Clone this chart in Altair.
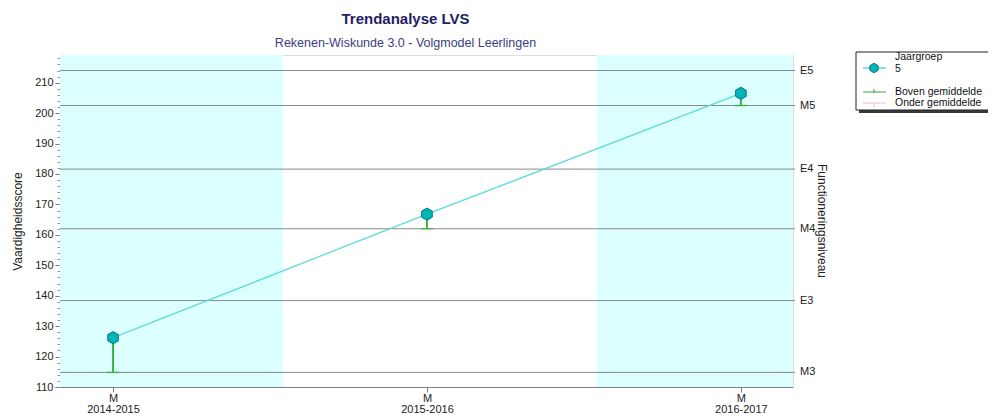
import json
import altair as alt
import pandas as pd

# ---- data ----
years = ["2014-2015", "2015-2016", "2016-2017"]
period = ["M", "M", "M"]
scores = [126.2, 166.8, 206.5]
stem_base = [114.8, 162.0, 202.5]
levels = ["M3", "E3", "M4", "E4", "M5", "E5"]
level_values = [114.8, 138.4, 162.0, 181.6, 202.5, 214.0]
band_start = [-0.169, 1.541]
band_end = [0.541, 2.166]
y_ticks = list(range(110, 211, 10))
y_minor = list(range(110, 220, 2))
legend_labels = ["Jaargroep", "5", "Boven gemiddelde", "Onder gemiddelde"]

W, H = 733, 332
XD = [-0.169, 2.166]
YD = [110, 219.1]
FONT = "Liberation Sans"
HEX = "M0,-1L0.866,-0.5L0.866,0.5L0,1L-0.866,0.5L-0.866,-0.5Z"

pts = pd.DataFrame({"i": list(range(len(years))), "year": years,
                    "score": scores, "base": stem_base})
lv = pd.DataFrame({"level": levels, "value": level_values})
bands = pd.DataFrame({"s": band_start, "e": band_end})
one = pd.DataFrame({"d": [0]})

xs = alt.Scale(domain=XD, nice=False, zero=False)
ys = alt.Scale(domain=YD, nice=False, zero=False)

label_expr = "[" + json.dumps(period) + "[datum.value], " + json.dumps(years) + "[datum.value]]"
x_axis = alt.Axis(values=[0, 1, 2], labelExpr=label_expr, tickSize=5,
                  tickColor="#808080", domainColor="#808080",
                  labelFont=FONT, labelFontSize=11, labelLineHeight=11,
                  labelColor="#222222", labelPadding=0, grid=False,
                  labelBaseline="top", title=None)


def X(field):
    return alt.X(field, scale=xs, axis=x_axis, title=None)


band_layer = alt.Chart(bands).mark_rect(color="#dcffff").encode(
    x=X("s:Q"),
    x2="e:Q",
    y=alt.value(0),
    y2=alt.value(H),
)

level_rules = alt.Chart(lv).mark_rule(color="#8a8a8a", strokeWidth=1).encode(
    y=alt.Y("value:Q", scale=ys, axis=None),
    x=alt.value(0),
    x2=alt.value(W + 2),
)

level_text = alt.Chart(lv).mark_text(
    align="left", baseline="middle", font=FONT, fontSize=11, color="#222222"
).encode(
    y=alt.Y("value:Q", scale=ys, axis=None),
    x=alt.value(W + 7),
    text="level:N",
)

line = alt.Chart(pts).mark_line(color="#5cdcdc", strokeWidth=1.3).encode(
    x=X("i:Q"),
    y=alt.Y("score:Q", scale=ys,
            axis=alt.Axis(orient="left", values=y_ticks, tickSize=5,
                          tickColor="#707070", domainColor="#909090",
                          labelFont=FONT, labelFontSize=11, labelColor="#222222",
                          labelPadding=2, grid=False,
                          title="Vaardigheidsscore", titleFont=FONT,
                          titleFontSize=12, titleFontWeight="normal",
                          titleColor="#222222", titleX=-43, titleY=H / 2,
                          titleAngle=-90, titleBaseline="middle",
                          titleAlign="center")),
)

stems = alt.Chart(pts).mark_rule(color="#0a9a0a", strokeWidth=1.5).encode(
    x=X("i:Q"),
    y=alt.Y("base:Q", scale=ys,
            axis=alt.Axis(orient="left", values=y_minor, tickSize=3,
                          tickColor="#909090", labels=False, domain=False,
                          grid=False, title=None)),
    y2="score:Q",
)

base_ticks = alt.Chart(pts).mark_point(
    shape="M-1,0L1,0", size=160, stroke="#2db52d", strokeWidth=1.5, filled=False
).encode(
    x=X("i:Q"),
    y=alt.Y("base:Q", scale=ys, axis=None),
)

points = alt.Chart(pts).mark_point(
    shape=HEX, size=150, filled=True, fill="#00b5b8", stroke="#007a7c",
    strokeWidth=1, opacity=1
).encode(
    x=X("i:Q"),
    y=alt.Y("score:Q", scale=ys, axis=None),
)

right_title = alt.Chart(one).mark_text(
    text="Functioneringsniveau", angle=90, align="center", baseline="middle",
    font=FONT, fontSize=12, color="#222222"
).encode(x=alt.value(W + 29), y=alt.value(H / 2))

# ---- legend (drawn manually to the right of the plot) ----
LX, LY = 796, -3
legend_shadow = alt.Chart(one).mark_rect(fill="#3a3a3a").encode(
    x=alt.value(LX + 3), x2=alt.value(LX + 141), y=alt.value(LY + 3), y2=alt.value(LY + 61))
legend_box = alt.Chart(one).mark_rect(fill="white", stroke="#222222", strokeWidth=1).encode(
    x=alt.value(LX), x2=alt.value(LX + 138), y=alt.value(LY), y2=alt.value(LY + 58))
leg_cyan = alt.Chart(one).mark_rule(color="#5cdcdc", strokeWidth=1.5).encode(
    x=alt.value(LX + 7), x2=alt.value(LX + 30), y=alt.value(LY + 16))
leg_hex = alt.Chart(one).mark_point(shape=HEX, size=90, filled=True, fill="#00b5b8",
                                    stroke="#007a7c", strokeWidth=1, opacity=1).encode(
    x=alt.value(LX + 18), y=alt.value(LY + 16))
leg_green = alt.Chart(one).mark_rule(color="#3aa83a", strokeWidth=1).encode(
    x=alt.value(LX + 7), x2=alt.value(LX + 30), y=alt.value(LY + 40))
leg_green_t = alt.Chart(one).mark_rule(color="#3aa83a", strokeWidth=1).encode(
    x=alt.value(LX + 18), y=alt.value(LY + 37), y2=alt.value(LY + 41))
leg_pink = alt.Chart(one).mark_rule(color="#f4bcc6", strokeWidth=1).encode(
    x=alt.value(LX + 7), x2=alt.value(LX + 30), y=alt.value(LY + 51))
leg_pink_t = alt.Chart(one).mark_rule(color="#f4bcc6", strokeWidth=1).encode(
    x=alt.value(LX + 18), y=alt.value(LY + 51), y2=alt.value(LY + 55))

leg_df = pd.DataFrame({"t": legend_labels,
                       "yy": [LY + 5, LY + 17, LY + 39.5, LY + 51]})
leg_text = alt.Chart(leg_df).mark_text(
    align="left", baseline="middle", font=FONT, fontSize=10.5, color="#111111"
).encode(x=alt.value(LX + 39), y=alt.Y("yy:Q", scale=None, axis=None), text="t:N")

chart = alt.layer(
    band_layer, level_rules, level_text, line, stems, base_ticks, points,
    right_title, legend_shadow, legend_box, leg_cyan, leg_hex, leg_green,
    leg_green_t, leg_pink, leg_pink_t, leg_text,
).resolve_axis(y="independent").properties(
    width=W, height=H,
    autosize=alt.AutoSizeParams(type="none"),
    padding={"left": 52, "top": 47, "right": 195, "bottom": 30},
    title=alt.TitleParams(
        "Trendanalyse LVS",
        subtitle="Rekenen-Wiskunde 3.0 - Volgmodel Leerlingen",
        font=FONT, fontSize=15, fontWeight="bold", color="#1e1e64",
        subtitleFont=FONT, subtitleFontSize=12.5, subtitleColor="#3c3c82",
        anchor="middle", dx=-21, offset=2, subtitlePadding=10,
    ),
).configure_view(stroke=None).configure(background="white")

chart.save("out.html", embed_options={"renderer": "svg", "actions": False})
